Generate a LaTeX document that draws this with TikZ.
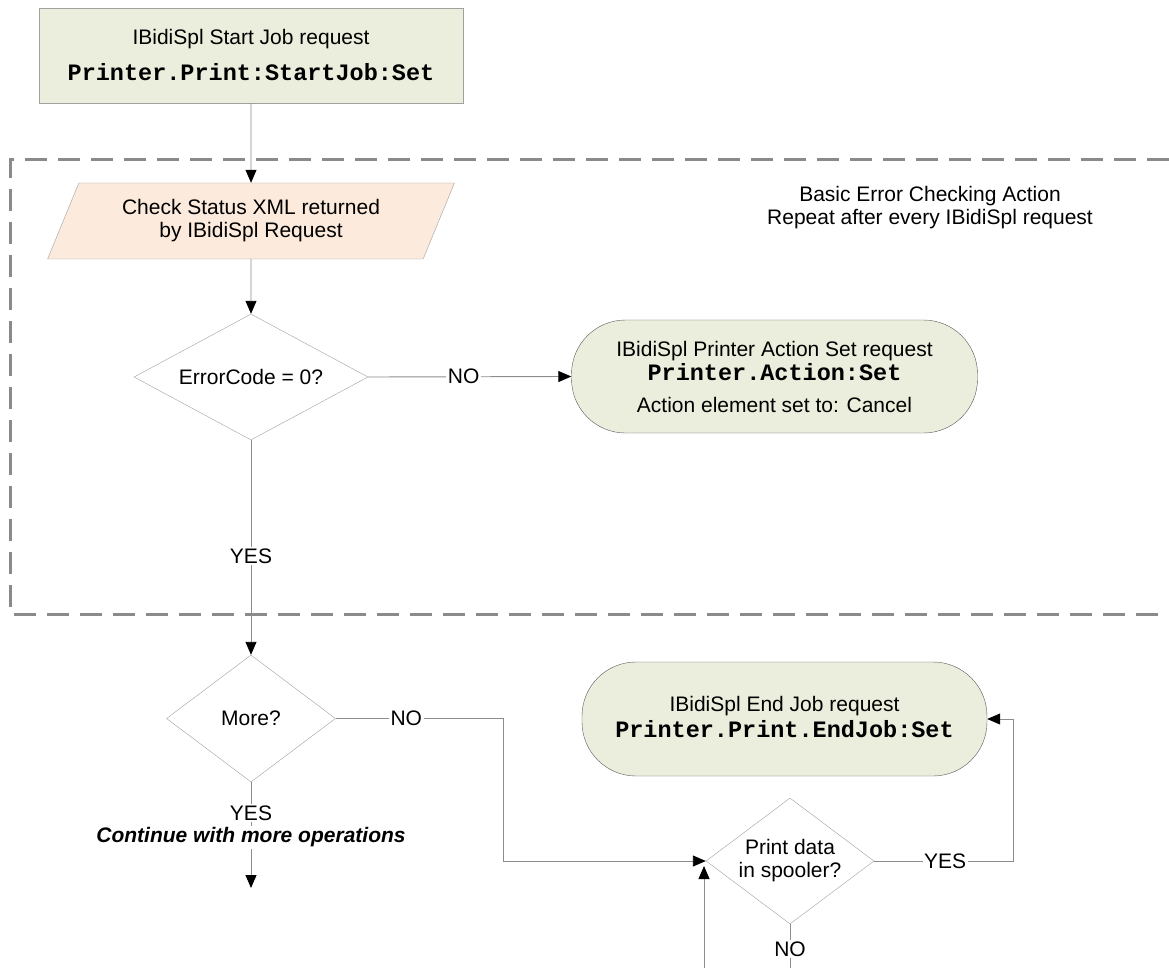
\documentclass[tikz,border=0pt]{standalone}
\usepackage{fontspec}
\setmainfont{Liberation Sans}
\newfontfamily\codefont{Liberation Mono}
\usetikzlibrary{arrows.meta,positioning,shapes.geometric}

\definecolor{reqfill}{HTML}{EBEEDD}
\definecolor{chkfill}{HTML}{FCEADC}
\definecolor{linegray}{HTML}{8C8C8C}
\definecolor{edgegray}{HTML}{A0A0A0}
\definecolor{dashgray}{HTML}{8A8A8A}

\newcommand{\code}[1]{{\codefont\bfseries\fontsize{23.5}{26}\selectfont #1}}

\begin{document}
\begin{tikzpicture}[x=1pt,y=-1pt,>={Triangle[length=13pt,width=11pt,color=black]},
    every node/.style={font=\fontsize{21}{23}\selectfont},
    request box/.style={rectangle,draw=edgegray,fill=reqfill,minimum width=424pt,minimum height=95pt,align=center},
    check box/.style={trapezium,trapezium left angle=64,trapezium right angle=116,trapezium stretches=true,
                      draw=edgegray,fill=chkfill,minimum width=408pt,minimum height=76pt,align=center},
    decision/.style={diamond,draw=edgegray,inner sep=0pt,align=center},
    action box/.style={rectangle,rounded corners=54pt,draw=black!65,fill=reqfill,minimum width=406pt,minimum height=113pt,align=center},
    conn/.style={->,draw=linegray,line width=0.9pt},
    lbl/.style={fill=white,inner sep=1.5pt}]
  \useasboundingbox (0,0) rectangle (1169,968);

  % error checking frame, open to the right
  \draw[dashgray,line width=3pt,dash pattern=on 22pt off 11pt] (1169,160) -- (10,160) -- (10,614) -- (1169,614);

  \node[request box] (start) at (251,55.5) {IBidiSpl Start Job request\\[13pt]\code{Printer.Print:StartJob:Set}};
  \node[check box] (check) at (251,221) {Check Status XML returned\\by IBidiSpl Request};
  \node[decision,shape aspect=1.86,minimum width=234pt,minimum height=126pt] (err) at (251,377) {ErrorCode = 0?};
  \node[action box] (cancel) at (774.5,376.5) {IBidiSpl Printer Action Set request\\[1pt]\code{Printer.Action:Set}\\[9pt]Action element set to: Cancel};
  \node[align=center] (note) at (930,208) {Basic Error Checking Action\\Repeat after every IBidiSpl request};

  \node[decision,shape aspect=1.33,minimum width=169pt,minimum height=127pt] (more) at (251,718.5) {More?};
  \node[action box,minimum width=405pt,minimum height=114pt] (endjob) at (784.5,719) {\\[-12pt]IBidiSpl End Job request\\[3pt]\code{Printer.Print.EndJob:Set}};
  \node[decision,shape aspect=1.33,minimum width=168pt,minimum height=126pt] (spool) at (790,861) {Print data\\in spooler?};

  \coordinate (next) at (251,888);
  \coordinate (out) at (790,968);
  \coordinate (back) at (704,968);

  \draw[conn] (start.south) -- (check.north);
  \draw[conn] (check.south) -- (err.north);
  \draw[conn] (err.east) -- node[lbl,pos=0.47]{NO} (cancel.west);
  \draw[conn] (err.south) -- node[lbl,pos=0.54]{YES} (more.north);
  \draw[conn] (more.east) -- node[lbl,pos=0.42]{NO} ++(168,0) |- (spool.west);
  \draw[conn] (spool.east) -- node[lbl,pos=0.51]{YES} ++(139,0) |- (endjob.east);
  \draw[conn] (more.south) -- node[lbl,pos=0.29]{YES}
      node[lbl,pos=0.52,font=\fontsize{21}{23}\selectfont\bfseries\itshape]{Continue with more operations} (next);
  \draw[draw=linegray,line width=0.9pt] (spool.south) -- node[lbl,pos=0.57]{NO} (out);
  \draw[conn] (back) -- ([yshift=-5pt]spool.west -| back);
\end{tikzpicture}
\end{document}
